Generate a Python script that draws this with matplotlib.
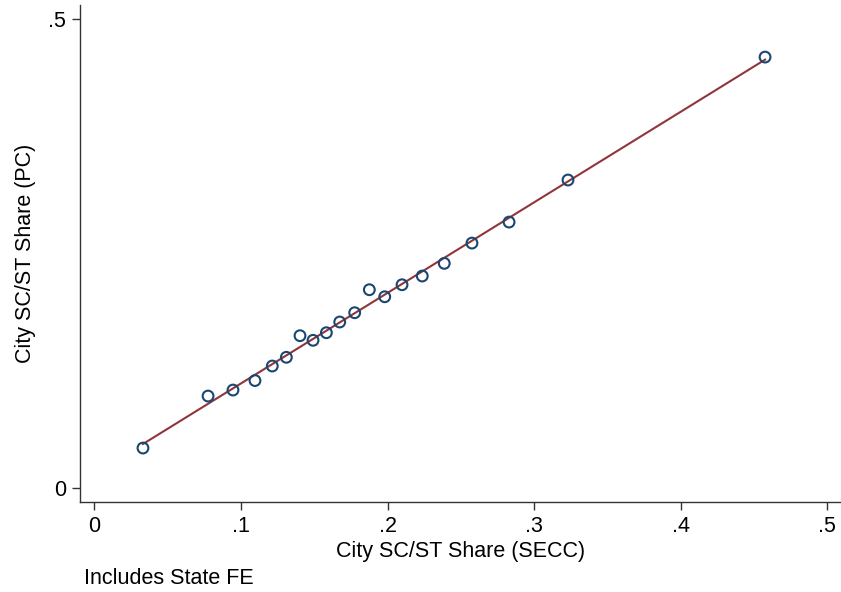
import numpy as np
import matplotlib.pyplot as plt

plt.rcParams['font.family'] = ['Liberation Sans', 'DejaVu Sans']

# binned means: city SC/ST share, SECC vs PC
secc_share = [0.0332, 0.0776, 0.0946, 0.1096, 0.1214, 0.1310, 0.1403, 0.1492, 0.1583, 0.1674,
              0.1776, 0.1876, 0.1981, 0.2099, 0.2237, 0.2387, 0.2576, 0.2829, 0.3231, 0.4575]
pc_share = [0.0429, 0.0983, 0.1047, 0.1148, 0.1303, 0.1396, 0.1626, 0.1577, 0.1658, 0.1772,
            0.1871, 0.2116, 0.2041, 0.2169, 0.2262, 0.2397, 0.2613, 0.2837, 0.3285, 0.4595]
xticks = [0, 0.1, 0.2, 0.3, 0.4, 0.5]
xtick_labels = ['0', '.1', '.2', '.3', '.4', '.5']
yticks = [0, 0.5]
ytick_labels = ['0', '.5']

x = np.array(secc_share)
y = np.array(pc_share)
b, a = np.polyfit(x, y, 1)
xf = np.array([x.min(), x.max()])

fig = plt.figure(figsize=(8.41, 5.92), dpi=100)
ax = fig.add_axes([80 / 841, 1 - 502 / 592, 1 - 80 / 841, 497 / 592])

ax.plot(xf, a + b * xf, color='#90353b', lw=1.5, zorder=2)
ax.scatter(x, y, s=60, facecolors='none', edgecolors='#1a476f', linewidths=1.5, zorder=3)

ax.set_xlim(-0.00975, 0.5093)
ax.set_ylim(-0.0146, 0.515)
ax.set_xticks(xticks)
ax.set_xticklabels(xtick_labels)
ax.set_yticks(yticks)
ax.set_yticklabels(ytick_labels)
ax.tick_params(direction='out', length=6, width=1, labelsize=15.5, pad=4, color='#333333')

for s in ['top', 'right']:
    ax.spines[s].set_visible(False)
for s in ['left', 'bottom']:
    ax.spines[s].set_color('#333333')
    ax.spines[s].set_linewidth(1)

ax.set_xlabel('City SC/ST Share (SECC)', fontsize=15.5, labelpad=3)
ax.set_ylabel('City SC/ST Share (PC)', fontsize=15.5, labelpad=9)
fig.text(84 / 841, 1 - 578 / 592, 'Includes State FE', fontsize=15.5, va='center', ha='left')

fig.savefig('out.png', dpi=100)
